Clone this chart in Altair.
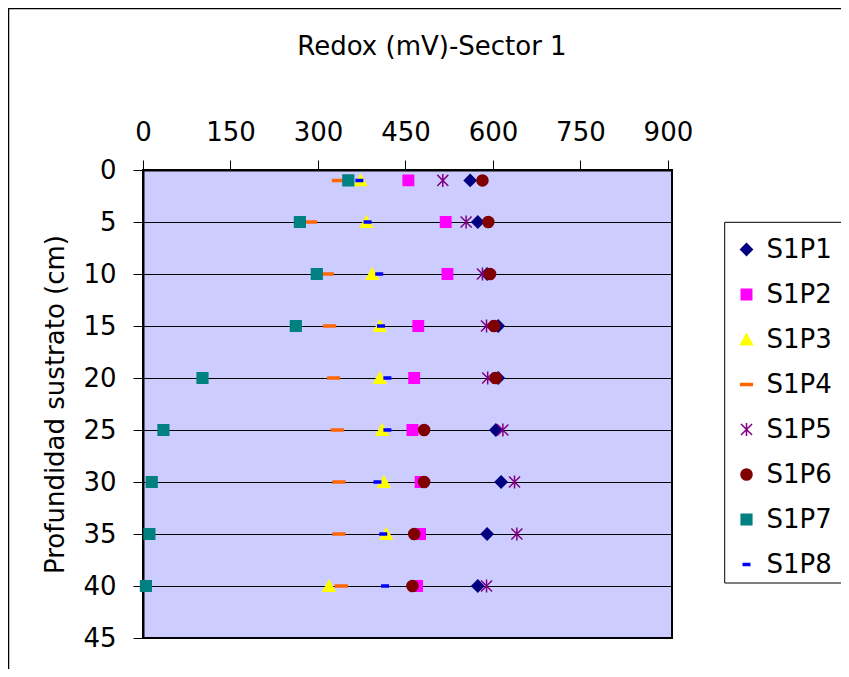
import altair as alt
import pandas as pd

FONT = "DejaVu Sans"

series = ["S1P1", "S1P2", "S1P3", "S1P4", "S1P5", "S1P6", "S1P7", "S1P8"]
depths = [1, 5, 10, 15, 20, 25, 30, 35, 40]
S1P1 = [561, 574, 590, 609, 609, 605, 614, 590, 574]
S1P2 = [455, 519, 522, 472, 465, 462, 476, 475, 470]
S1P3 = [373, 383, 393, 406, 406, 410, 413, 417, 319]
S1P4 = [335, 287, 316, 320, 327, 333, 336, 336, 340]
S1P5 = [514, 554, 582, 589, 591, 617, 637, 641, 589]
S1P6 = [582, 592, 595, 602, 605, 482, 482, 465, 462]
S1P7 = [352, 269, 298, 262, 102, 35, 15, 11, 5]
S1P8 = [371, 385, 405, 408, 419, 419, 402, 412, 415]

x_ticks = [0, 150, 300, 450, 600, 750, 900]
y_ticks = [0, 5, 10, 15, 20, 25, 30, 35, 40, 45]

colors = ["#000080", "#FF00FF", "#FFFF00", "#FF6600", "#800080", "#800000", "#008080", "#0000FF"]
shapes = [
    "M0,-0.9L0.9,0L0,0.9L-0.9,0Z",
    "M-0.8,-0.8H0.8V0.8H-0.8Z",
    "M0,-0.85L0.92,0.8L-0.92,0.8Z",
    "M-0.9,-0.15H0.9V0.15H-0.9Z",
    "M-0.85,-0.85L0.85,0.85M-0.85,0.85L0.85,-0.85M0,-1L0,1",
    "M-0.85,0A0.85,0.85,0,1,1,0.85,0A0.85,0.85,0,1,1,-0.85,0Z",
    "M-0.82,-0.82H0.82V0.82H-0.82Z",
    "M-0.5,-0.15H0.5V0.15H-0.5Z",
]

rows = []
for name, vals in zip(series, [S1P1, S1P2, S1P3, S1P4, S1P5, S1P6, S1P7, S1P8]):
    for d, v in zip(depths, vals):
        rows.append({"serie": name, "prof": d, "redox": v})
df = pd.DataFrame(rows)

FS = 26

leg = alt.Legend(
    title=None, orient="none", legendX=578.5, legendY=54.5,
    labelFont=FONT, labelFontSize=FS, labelColor="black",
    symbolSize=169, symbolStrokeWidth=1.5, symbolOpacity=1,
    rowPadding=19, padding=12, labelOffset=7,
)

points = alt.Chart(df).mark_point(filled=True, opacity=1, strokeWidth=1.5, size=169).encode(
    x=alt.X("redox:Q", scale=alt.Scale(domain=[0, 907], nice=False, zero=True),
            axis=alt.Axis(orient="top", values=x_ticks, title=None, grid=False,
                          labelFont=FONT, labelFontSize=FS, labelColor="black",
                          labelBaseline="alphabetic", labelPadding=20,
                          tickSize=10, tickColor="black", tickWidth=1,
                          domainColor="black", domainWidth=2, labelFlush=False)),
    y=alt.Y("prof:Q", scale=alt.Scale(domain=[0, 45], reverse=True, nice=False),
            axis=alt.Axis(values=y_ticks, grid=True, gridColor="black", gridWidth=1, gridOpacity=1,
                          title="Profundidad sustrato (cm)", titleFont=FONT, titleFontSize=FS,
                          titleFontWeight="normal", titleColor="black",
                          titleX=-88, titleY=234, titleAngle=270, titleAlign="center",
                          titleBaseline="middle",
                          labelFont=FONT, labelFontSize=FS, labelColor="black",
                          labelPadding=17, tickSize=10, tickColor="black", tickWidth=1,
                          domainColor="black", domainWidth=2, labelFlush=False)),
    fill=alt.Fill("serie:N", scale=alt.Scale(domain=series, range=colors), legend=leg),
    stroke=alt.Stroke("serie:N", scale=alt.Scale(domain=series, range=colors), legend=leg),
    shape=alt.Shape("serie:N", scale=alt.Scale(domain=series, range=shapes), legend=leg),
)

title = alt.Chart(alt.Data(values=[{"t": "Redox (mV)-Sector 1"}])).mark_text(
    font=FONT, fontSize=FS, color="black", baseline="alphabetic", align="center"
).encode(text="t:N", x=alt.value(289), y=alt.value(-115))

chart_border = alt.Chart(alt.Data(values=[{"a": 1}])).mark_rect(
    fill="transparent", stroke="black", strokeWidth=1.5
).encode(x=alt.value(-134.5), x2=alt.value(760), y=alt.value(-161.5), y2=alt.value(560))

legend_box = alt.Chart(alt.Data(values=[{"a": 1}])).mark_rect(
    fill="white", stroke="black", strokeWidth=1
).encode(x=alt.value(581.7), x2=alt.value(740), y=alt.value(52.3), y2=alt.value(413))

chart = alt.layer(chart_border, legend_box, title, points).properties(
    width=529, height=468,
    autosize=alt.AutoSizeParams(type="none"),
    padding={"left": 135, "top": 162, "right": 169, "bottom": 31},
    background="white",
).configure_view(fill="#CCCCFF", stroke="black", strokeWidth=2)

chart.save("out.html", embed_options={"renderer": "svg", "actions": False})
